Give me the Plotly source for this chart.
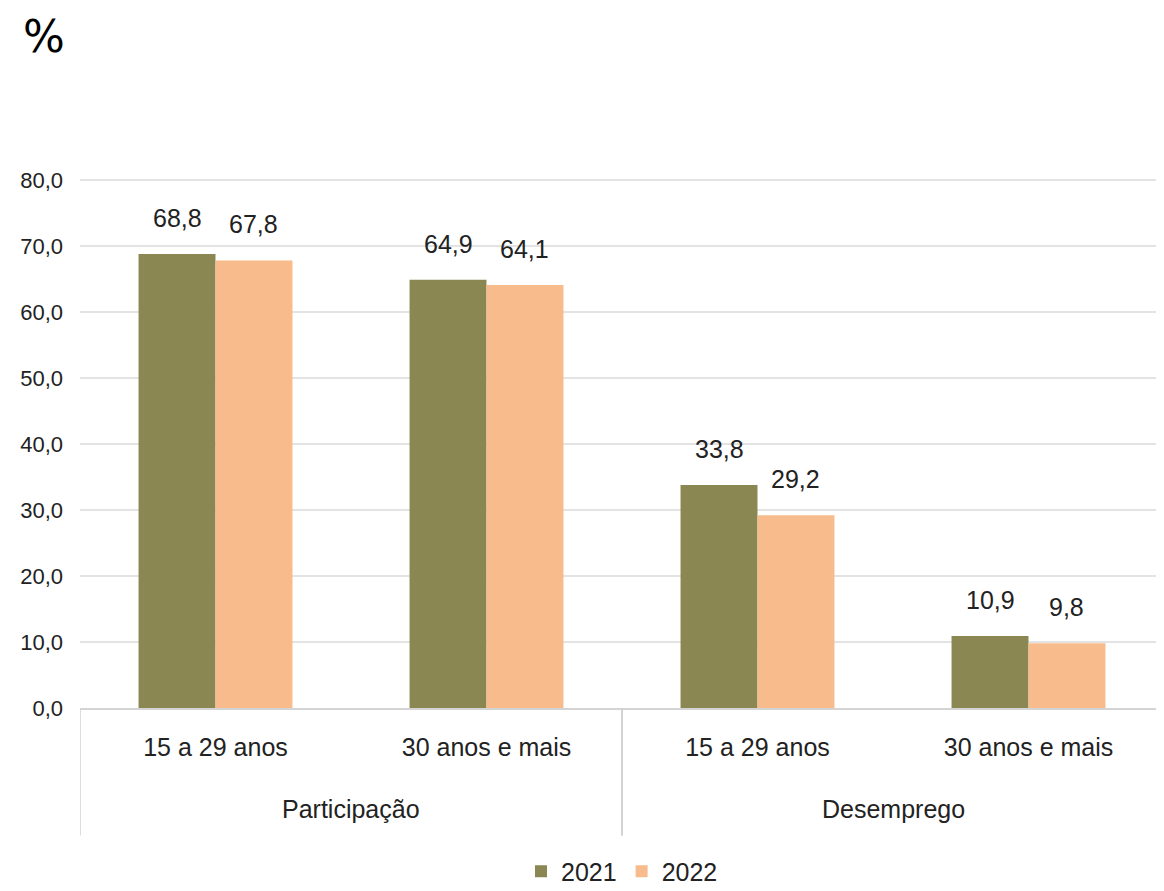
import plotly.graph_objects as go

groups = ["Participação", "Participação", "Desemprego", "Desemprego"]
ages = ["15 a 29 anos", "30 anos e mais", "15 a 29 anos", "30 anos e mais"]
v2021 = [68.8, 64.9, 33.8, 10.9]
v2022 = [67.8, 64.1, 29.2, 9.8]
ytick_vals = [0, 10, 20, 30, 40, 50, 60, 70, 80]

FONT = "Liberation Sans Narrow, Arial Narrow, Liberation Sans, Arial, sans-serif"
BARGAP = 0.432
idx = list(range(len(ages)))

fig = go.Figure()
fig.add_trace(go.Bar(x=idx, y=v2021, name="2021",
                     marker=dict(color="#8B8752", line=dict(width=0))))
fig.add_trace(go.Bar(x=idx, y=v2022, name="2022",
                     marker=dict(color="#F8BC8C", line=dict(width=0))))

fmt = lambda v: f"{v:.1f}".replace(".", ",")
half = (1 - BARGAP) / 4
annotations = []
for i, (a, b) in enumerate(zip(v2021, v2022)):
    for off, v in ((-half, a), (half, b)):
        annotations.append(dict(x=i + off, y=v, xref="x", yref="y", text=fmt(v),
                                showarrow=False, yanchor="bottom", yshift=20,
                                font=dict(size=25, family=FONT, color="#222222")))

# group labels and dividers
group_names = []
for g in groups:
    if g not in group_names:
        group_names.append(g)
shapes = []
for g in group_names:
    members = [i for i, gg in enumerate(groups) if gg == g]
    annotations.append(dict(x=sum(members) / len(members), y=-0.19, xref="x", yref="paper",
                            text=g, showarrow=False, yanchor="middle",
                            font=dict(size=25, family=FONT, color="#222222")))
    for edge in (min(members) - 0.5, max(members) + 0.5):
        shapes.append(dict(type="line", xref="x", yref="paper", x0=edge, x1=edge,
                           y0=0, y1=-0.24, line=dict(color="#D0D0D0", width=1.5)))

annotations.append(dict(text="%", xref="paper", yref="paper", x=-0.033, y=1.264,
                        xanchor="center", yanchor="middle", showarrow=False,
                        font=dict(size=44, family="DejaVu Sans, sans-serif", color="#000000")))

fig.update_layout(
    width=1156, height=883,
    barmode="group", bargap=BARGAP, bargroupgap=0,
    separators=",.",
    paper_bgcolor="white", plot_bgcolor="white",
    margin=dict(l=72, r=0, t=169, b=183, autoexpand=False),
    font=dict(family=FONT, size=22, color="#222222"),
    showlegend=True,
    legend=dict(orientation="h", x=0.5, xanchor="center", y=-0.308, yanchor="middle",
                font=dict(size=25, family=FONT, color="#222222"), traceorder="normal",
                itemwidth=30),
    annotations=annotations,
    shapes=shapes,
)
fig.update_yaxes(range=[0, 80.45], tickvals=ytick_vals, tickformat=".1f",
                 showgrid=True, gridcolor="#E3E3E3", gridwidth=1.5,
                 zeroline=False, showline=False, automargin=False,
                 tickfont=dict(size=22, family=FONT, color="#222222"), ticks="",
                 ticklabelstandoff=16)
fig.update_xaxes(range=[-0.5, 3.5], tickvals=idx, ticktext=ages,
                 showline=True, linecolor="#D4D4D4", linewidth=2, automargin=False,
                 showgrid=False, zeroline=False,
                 tickfont=dict(size=25, family=FONT, color="#222222"), ticks="",
                 ticklabelstandoff=16)

fig.write_html("out.html")
